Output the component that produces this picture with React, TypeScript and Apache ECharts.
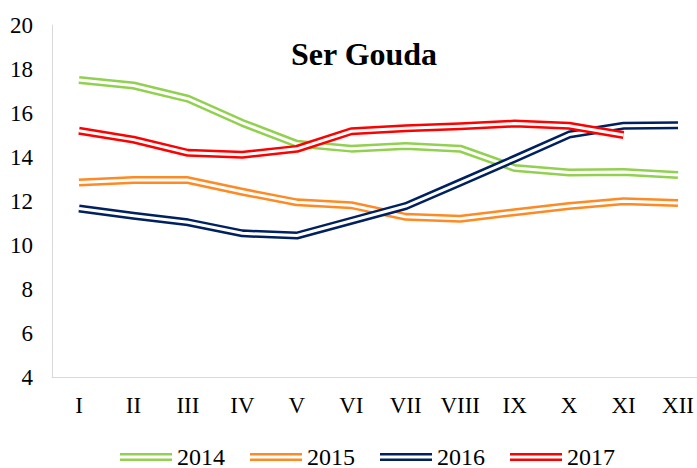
import React, { useEffect, useRef } from "react";
import * as echarts from "echarts";

const months = ["I", "II", "III", "IV", "V", "VI", "VII", "VIII", "IX", "X", "XI", "XII"];
const years = ["2014", "2015", "2016", "2017"];
const colors = ["#92d050", "#ff8a23", "#002060", "#ff0000"];

const v2014 = [17.5, 17.25, 16.65, 15.55, 14.6, 14.38, 14.5, 14.38, 13.5, 13.3, 13.32, 13.18];
const v2015 = [12.84, 12.95, 12.95, 12.42, 11.94, 11.81, 11.28, 11.19, 11.49, 11.77, 11.99, 11.91];
const v2016 = [11.66, 11.33, 11.03, 10.53, 10.43, 11.1, 11.77, 12.84, 13.92, 15.02, 15.42, 15.44];
const v2017 = [15.19, 14.79, 14.19, 14.1, 14.37, 15.17, 15.31, 15.4, 15.52, 15.42, 15.0, null];

const seriesValues = [v2014, v2015, v2016, v2017];
const yTicks = [4, 6, 8, 10, 12, 14, 16, 18, 20];

const FONT = "Liberation Serif";

export default function App() {
  const ref = useRef<HTMLDivElement>(null);
  useEffect(() => {
    if (!ref.current) return;
    const chart = echarts.init(ref.current, null, { renderer: "svg" });
    const series: any[] = [];
    years.forEach((y, i) => {
      series.push({
        name: y,
        type: "line",
        xAxisIndex: 0,
        yAxisIndex: 0,
        data: seriesValues[i],
        symbol: "none",
        lineStyle: { color: colors[i], width: 8, join: "round" },
        itemStyle: { color: colors[i] },
        z: 2 + i * 2,
      });
      series.push({
        name: y + "_inner",
        type: "line",
        xAxisIndex: 0,
        yAxisIndex: 0,
        data: seriesValues[i],
        symbol: "none",
        lineStyle: { color: "#ffffff", width: 3, join: "round" },
        itemStyle: { color: "#ffffff" },
        z: 3 + i * 2,
        silent: true,
      });
    });
    chart.setOption({
      animation: false,
      backgroundColor: "#ffffff",
      title: {
        text: "Ser Gouda",
        left: 291,
        top: 38,
        padding: 0,
        textStyle: { fontFamily: FONT, fontSize: 32, fontWeight: "bold", color: "#000", lineHeight: 32 },
      },
      legend: {
        left: 120,
        top: 444,
        padding: 0,
        itemWidth: 52,
        itemHeight: 8,
        itemGap: 25,
        textStyle: { fontFamily: FONT, fontSize: 24, color: "#000", lineHeight: 26 },
        data: years.map((y, i) => ({
          name: y,
          icon: "path://M0,0H52V2.6H0Z M0,5.4H52V8H0Z",
          itemStyle: { color: colors[i], borderWidth: 0 },
        })),
      },
      grid: [
        { left: 79, right: 19, top: 25, bottom: 91 },
        { left: 52, right: -5, top: 25, bottom: 91 },
      ],
      xAxis: [
        {
          type: "category",
          gridIndex: 0,
          data: months,
          boundaryGap: false,
          axisLine: { show: false },
          axisTick: { show: false },
          axisLabel: { fontFamily: FONT, fontSize: 23, color: "#000", margin: 17 },
          splitLine: { show: false },
        },
        {
          type: "value",
          gridIndex: 1,
          min: 0,
          max: 1,
          axisLine: { show: true, lineStyle: { color: "#d9d9d9", width: 1 } },
          axisTick: { show: false },
          axisLabel: { show: false },
          splitLine: { show: false },
        },
      ],
      yAxis: [
        {
          type: "value",
          gridIndex: 0,
          min: yTicks[0],
          max: yTicks[yTicks.length - 1],
          interval: 2,
          axisLine: { show: false },
          axisTick: { show: false },
          axisLabel: { fontFamily: FONT, fontSize: 23, color: "#000", margin: 46 },
          splitLine: { show: false },
        },
        {
          type: "value",
          gridIndex: 1,
          min: 0,
          max: 1,
          axisLine: { show: true, lineStyle: { color: "#d9d9d9", width: 1 } },
          axisTick: { show: false },
          axisLabel: { show: false },
          splitLine: { show: false },
        },
      ],
      series,
    });
    return () => chart.dispose();
  }, []);
  return <div ref={ref} style={{ width: 697, height: 468, position: "absolute", left: 0, top: 0 }} />;
}
